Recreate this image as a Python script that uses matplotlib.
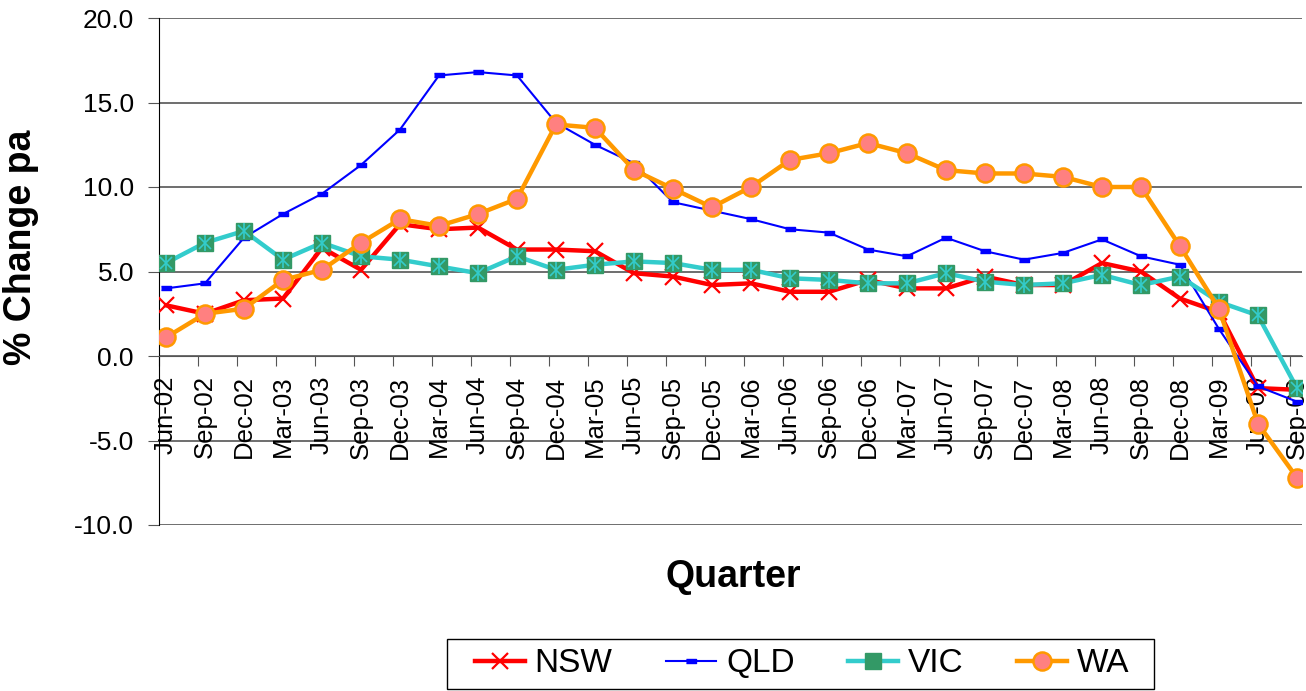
import numpy as np
import matplotlib
matplotlib.use("Agg")
import matplotlib.pyplot as plt
from matplotlib.lines import Line2D
from matplotlib.patches import Rectangle

plt.rcParams['font.family'] = ['Liberation Sans', 'DejaVu Sans']

quarters = ['Jun-02', 'Sep-02', 'Dec-02', 'Mar-03', 'Jun-03', 'Sep-03', 'Dec-03', 'Mar-04',
            'Jun-04', 'Sep-04', 'Dec-04', 'Mar-05', 'Jun-05', 'Sep-05', 'Dec-05', 'Mar-06',
            'Jun-06', 'Sep-06', 'Dec-06', 'Mar-07', 'Jun-07', 'Sep-07', 'Dec-07', 'Mar-08',
            'Jun-08', 'Sep-08', 'Dec-08', 'Mar-09', 'Jun-09', 'Sep-09']

nsw = [3.0, 2.5, 3.3, 3.4, 6.4, 5.1, 7.8, 7.5, 7.6, 6.3, 6.3, 6.2, 4.9, 4.7, 4.2,
       4.3, 3.8, 3.8, 4.5, 4.0, 4.0, 4.7, 4.2, 4.2, 5.5, 5.0, 3.4, 2.6, -1.9, -2.0]
qld = [4.0, 4.3, 7.0, 8.4, 9.6, 11.3, 13.4, 16.6, 16.8, 16.6, 13.8, 12.5, 11.4, 9.1, 8.6,
       8.1, 7.5, 7.3, 6.3, 5.9, 7.0, 6.2, 5.7, 6.1, 6.9, 5.9, 5.4, 1.6, -1.8, -2.7]
vic = [5.5, 6.7, 7.4, 5.7, 6.7, 5.9, 5.7, 5.3, 4.9, 5.9, 5.1, 5.4, 5.6, 5.5, 5.1,
       5.1, 4.6, 4.5, 4.3, 4.3, 4.9, 4.4, 4.2, 4.3, 4.8, 4.2, 4.7, 3.2, 2.4, -1.9]
wa = [1.1, 2.5, 2.8, 4.5, 5.1, 6.7, 8.1, 7.7, 8.4, 9.3, 13.7, 13.5, 11.0, 9.9, 8.8,
      10.0, 11.6, 12.0, 12.6, 12.0, 11.0, 10.8, 10.8, 10.6, 10.0, 10.0, 6.5, 2.8, -4.0, -7.2]

x = np.arange(len(quarters))
W, H = 1306, 691

# styles
dash = [(-1, -0.45), (1, -0.45), (1, 0.45), (-1, 0.45)]
nsw_kw = dict(color='#FF0000', lw=3.2, marker='x', ms=11, mew=1.6)
qld_kw = dict(color='#0000FF', lw=1.5, marker=dash, ms=7)
vic_kw = dict(color='#33CCCC', lw=3.2, marker='s', ms=12, mfc='#339966', mec='#339966')
wa_kw = dict(color='#FF9900', lw=3.2, marker='o', ms=13, mfc='#FF8080', mec='#FF9900', mew=1.8)

fig = plt.figure(figsize=(W / 100, H / 100), dpi=100)
ax = fig.add_axes([159 / W, 1 - 525 / H, (1302 - 159) / W, (525 - 18) / H])

# gridlines
for v in np.arange(-10, 21, 5):
    ax.axhline(v, color='#555555', lw=1.2, zorder=0)

ax.plot(x, nsw, zorder=3, **nsw_kw)
ax.plot(x, qld, zorder=4, **qld_kw)
ax.plot(x, vic, zorder=5, **vic_kw)
ax.plot(x, vic, ls='none', marker='x', ms=8, mec='#33CCCC', mew=1.2, zorder=5)
ax.plot(x, vic, ls='none', marker='|', ms=11, mec='#33CCCC', mew=1.2, zorder=5)
ax.plot(x, wa, zorder=6, **wa_kw)

ax.set_xlim(-0.18, 29.13)
ax.set_ylim(-10, 20)
ax.set_yticks(np.arange(-10, 21, 5))
ax.set_yticklabels(['%.1f' % v for v in np.arange(-10, 21, 5)], fontsize=19)

ax.spines['bottom'].set_position(('data', 0))
ax.spines['bottom'].set_color('#555555')
ax.spines['top'].set_visible(False)
ax.spines['right'].set_visible(False)
ax.set_xticks(x - 0.18)
ax.set_xticklabels([])
ax.set_xticks(x, minor=True)
ax.set_xticklabels(quarters, minor=True, rotation=90, fontsize=18.5)
ax.tick_params(axis='x', which='major', length=7, color='#555555')
ax.tick_params(axis='x', which='minor', length=0, pad=14)
ax.tick_params(axis='y', length=8, color='#555555', pad=10)

fig.text(733 / W, 1 - 577 / H, 'Quarter', fontsize=27, fontweight='bold', ha='center', va='center')
fig.text(21 / W, 1 - 247 / H, '% Change pa', fontsize=27, fontweight='bold', ha='center', va='center',
         rotation=90)

# legend
handles = [Line2D([], [], **nsw_kw), Line2D([], [], **qld_kw),
           Line2D([], [], **vic_kw), Line2D([], [], **wa_kw)]
fig.legend(handles, ['NSW', 'QLD', 'VIC', 'WA'], loc='center', ncol=4,
           bbox_to_anchor=(802 / W, 1 - 664 / H), fontsize=24, frameon=False,
           handlelength=1.5, handletextpad=0.3, columnspacing=1.6, borderpad=0.2)
fig.patches.append(Rectangle((447 / W, 1 - 689 / H), (1154 - 447) / W, 50 / H,
                             transform=fig.transFigure, fill=False, edgecolor='black', lw=1.0))

fig.savefig('out.png', dpi=100)
